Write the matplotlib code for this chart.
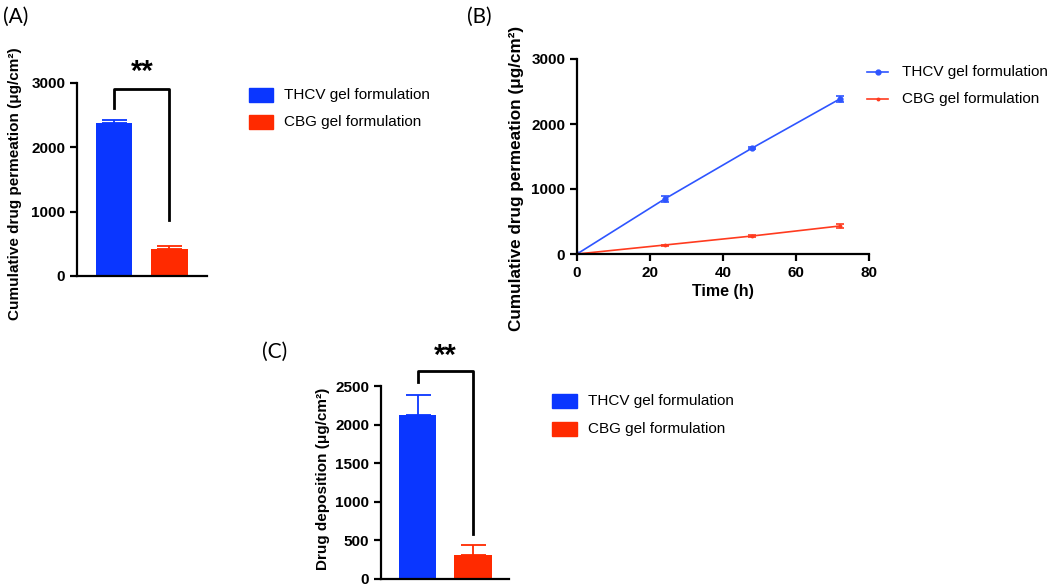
import matplotlib
matplotlib.use("Agg")
import matplotlib.pyplot as plt
from matplotlib.patches import Rectangle
from matplotlib.lines import Line2D

# ---- data ----
groups = ["THCV gel formulation", "CBG gel formulation"]
perm_72h = [2385, 425]
perm_72h_err = [45, 40]

time_h = [0, 24, 48, 72]
thcv_perm = [0, 846, 1630, 2385]
thcv_perm_err = [0, 50, 20, 40]
cbg_perm = [0, 138, 277, 431]
cbg_perm_err = [0, 8, 20, 35]

deposition = [2126, 309]
deposition_err = [258, 130]

blue = "#0A36FF"
red = "#FF2A00"
line_blue = "#2E55FF"
line_red = "#FF3B1F"

plt.rcParams['font.family'] = ['Liberation Sans', 'DejaVu Sans']

fig = plt.figure(figsize=(10.5, 5.87), dpi=100)
W, H = 1050, 587

def axes_px(l, r, top, bottom):
    return fig.add_axes([l / W, 1 - bottom / H, (r - l) / W, (bottom - top) / H])

def style(ax):
    for s in ["top", "right"]:
        ax.spines[s].set_visible(False)
    for s in ["left", "bottom"]:
        ax.spines[s].set_linewidth(1.6)
    ax.tick_params(width=1.6, length=5, labelsize=11)
    for lab in ax.get_yticklabels() + ax.get_xticklabels():
        lab.set_fontweight("bold")

def bracket(ax, x0, x1, ytop, yl, yr, star_y):
    ax.plot([x0, x0, x1, x1], [yl, ytop, ytop, yr], color="black", lw=2, clip_on=False)
    ax.text((x0 + x1) / 2, star_y, "**", ha="center", va="center", fontsize=21,
            fontweight="bold", clip_on=False)

# ---- Panel A ----
axA = axes_px(77, 207, 83, 276)
xs = [0, 1]
axA.bar(xs, perm_72h, width=0.65, color=[blue, red])
for x, v, e, c in zip(xs, perm_72h, perm_72h_err, [blue, red]):
    axA.errorbar(x, v, yerr=[[0], [e]], color=c, capsize=9, elinewidth=1.3, capthick=1.3)
axA.set_xlim(-0.667, 1.676)
axA.set_ylim(0, 3000)
axA.set_yticks([0, 1000, 2000, 3000])
axA.set_xticks([])
axA.set_ylabel("Cumulative drug permeation (μg/cm²)", fontsize=11, fontweight="bold")
axA.yaxis.set_label_coords(-0.42, 0.48)
style(axA)
bracket(axA, 0, 1, 2900, 2610, 870, 3170)

# ---- Panel B ----
axB = axes_px(577, 869, 59, 254)
axB.errorbar(time_h, thcv_perm, yerr=thcv_perm_err, color=line_blue, marker="o", ms=3.5,
             lw=1.2, capsize=3, elinewidth=1.2, capthick=1.2)
axB.errorbar(time_h, cbg_perm, yerr=cbg_perm_err, color=line_red, marker="o", ms=1.8,
             lw=1.2, capsize=3, elinewidth=1.2, capthick=1.2)
axB.set_xlim(0, 80)
axB.set_ylim(0, 3000)
axB.set_xticks([0, 20, 40, 60, 80])
axB.set_yticks([0, 1000, 2000, 3000])
axB.set_xlabel("Time (h)", fontsize=11.5, fontweight="bold", labelpad=3)
axB.set_ylabel("Cumulative drug permeation (μg/cm²)", fontsize=12.3, fontweight="bold")
axB.yaxis.set_label_coords(-0.18, 0.39)
style(axB)

# ---- Panel C ----
axC = axes_px(381, 509, 386, 579)
axC.bar(xs, deposition, width=0.67, color=[blue, red])
for x, v, e, c in zip(xs, deposition, deposition_err, [blue, red]):
    axC.errorbar(x, v, yerr=[[0], [e]], color=c, capsize=9, elinewidth=1.3, capthick=1.3)
axC.set_xlim(-0.658, 1.649)
axC.set_ylim(0, 2500)
axC.set_yticks([0, 500, 1000, 1500, 2000, 2500])
axC.set_xticks([])
axC.set_ylabel("Drug deposition (μg/cm²)", fontsize=11, fontweight="bold")
axC.yaxis.set_label_coords(-0.40, 0.52)
style(axC)
bracket(axC, 0, 1, 2693, 2550, 580, 2885)

# ---- legends (figure coordinates) ----
def box_legend(x0, x1, ys, tx):
    for (yt, yb), c, lab in zip(ys, [blue, red], groups):
        fig.patches.append(Rectangle((x0 / W, 1 - yb / H), (x1 - x0) / W, (yb - yt) / H,
                                     transform=fig.transFigure, color=c))
        fig.text(tx / W, 1 - ((yt + yb) / 2) / H, lab, fontsize=11, va="center", ha="left")

box_legend(249, 273, [(88, 102), (115, 129)], 284)
box_legend(552, 577, [(394, 408), (422, 436)], 588)

for y, c, ms, lab in zip([72, 99], [line_blue, line_red], [3.5, 1.8], groups):
    fig.lines.append(Line2D([867 / W, 888 / W], [1 - y / H, 1 - y / H], transform=fig.transFigure,
                            color=c, lw=1.2))
    fig.lines.append(Line2D([877.5 / W], [1 - y / H], transform=fig.transFigure, color=c,
                            marker="o", ms=ms))
    fig.text(902 / W, 1 - y / H, lab, fontsize=11, va="center", ha="left")

# ---- panel labels ----
for x, y, t in [(3, 17, "(A)"), (467, 17, "(B)"), (262, 352, "(C)")]:
    fig.text(x / W, 1 - y / H, t, fontsize=15, va="center", ha="left",
             family=["Lato", "DejaVu Sans"])

fig.savefig("out.png", dpi=100)
